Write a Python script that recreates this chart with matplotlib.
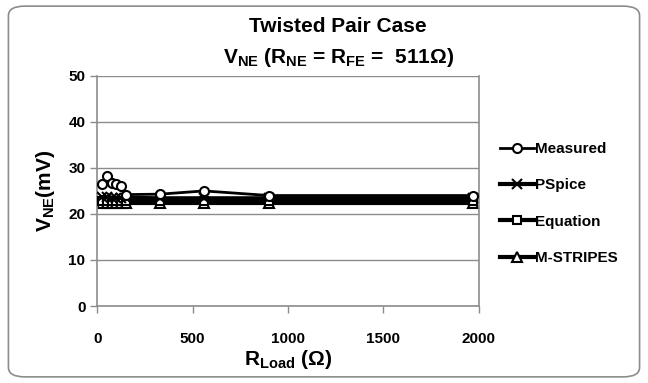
import matplotlib
matplotlib.use("Agg")
import matplotlib.pyplot as plt
from matplotlib.patches import FancyBboxPatch

plt.rcParams['font.family'] = ['Liberation Sans', 'DejaVu Sans']
plt.rcParams['font.weight'] = 'bold'
plt.rcParams['axes.labelweight'] = 'bold'
plt.rcParams['mathtext.fontset'] = 'custom'
plt.rcParams['mathtext.bf'] = 'Liberation Sans:bold'
plt.rcParams['mathtext.rm'] = 'Liberation Sans:bold'
plt.rcParams['mathtext.it'] = 'Liberation Sans:bold'
plt.rcParams['mathtext.default'] = 'bf'

# load resistance (ohm)
r_meas = [25, 50, 75, 100, 125, 150, 330, 560, 900, 1970]
v_meas = [26.5, 28.3, 26.8, 26.5, 26.0, 24.2, 24.3, 25.0, 24.0, 24.0]

r_sim = [25, 50, 75, 100, 125, 150, 330, 560, 900, 1970]
v_pspice = [23.6, 23.6, 23.5, 23.5, 23.5, 23.5, 23.4, 23.4, 23.4, 23.4]
v_equation = [22.8, 22.8, 22.8, 22.8, 22.8, 22.8, 22.8, 22.8, 22.8, 22.8]
v_mstripes = [22.4, 22.4, 22.4, 22.4, 22.4, 22.4, 22.4, 22.4, 22.4, 22.4]

x_ticks = [0, 500, 1000, 1500, 2000]
y_ticks = [0, 10, 20, 30, 40, 50]

fig = plt.figure(figsize=(6.48, 3.83), dpi=100)

# rounded chart border
border = FancyBboxPatch((0.013, 0.016), 0.974, 0.968,
                        boxstyle="round,pad=0,rounding_size=0.025",
                        transform=fig.transFigure, facecolor='none',
                        edgecolor='#8c8c8c', linewidth=1.2, zorder=0)
fig.patches.append(border)

ax = fig.add_axes([0.150, 0.201, 0.589, 0.601])
ax.patch.set_alpha(0)

lw = 3
ms = 6.5
ax.plot(r_meas, v_meas, color='black', lw=2, marker='o', ms=ms,
        mfc='white', mec='black', mew=1.5, label='Measured', zorder=5)
ax.plot(r_sim, v_pspice, color='black', lw=lw, marker='x', ms=ms,
        mew=1.5, label='PSpice', zorder=4)
ax.plot(r_sim, v_equation, color='black', lw=lw, marker='s', ms=ms - 1,
        mfc='white', mec='black', mew=1.5, label='Equation', zorder=3)
ax.plot(r_sim, v_mstripes, color='black', lw=lw, marker='^', ms=ms,
        mfc='white', mec='black', mew=1.5, label='M-STRIPES', zorder=2)

ax.set_xlim(0, 2000)
ax.set_ylim(0, 50)
ax.set_xticks(x_ticks)
ax.set_yticks(y_ticks)
ax.tick_params(labelsize=11, length=5, color='#8c8c8c', width=1)
ax.tick_params(axis='x', pad=14)
ax.yaxis.grid(True, color='#8c8c8c', lw=1)
ax.set_axisbelow(True)
for s in ['left', 'bottom', 'right']:
    ax.spines[s].set_color('#8c8c8c')
    ax.spines[s].set_linewidth(1.2)
ax.spines['top'].set_visible(False)

ax.set_xlabel(r'R$_{Load}$ ($\Omega$)', fontsize=15, fontweight='bold', labelpad=1)
ax.set_ylabel(r'V$_{NE}$(mV)', fontsize=15, fontweight='bold', labelpad=8)

fig.text(0.522, 0.93, 'Twisted Pair Case', ha='center', va='center',
         fontsize=15, fontweight='bold')
fig.text(0.522, 0.85, r'V$_{NE}$ (R$_{NE}$ = R$_{FE}$ =  511$\Omega$)',
         ha='center', va='center', fontsize=15, fontweight='bold')

leg = ax.legend(loc='center left', bbox_to_anchor=(1.02, 0.445), frameon=False,
                prop={'size': 11, 'weight': 'bold'}, handlelength=2.2,
                handletextpad=0.1, labelspacing=1.47)

fig.savefig('out.png', dpi=100)
